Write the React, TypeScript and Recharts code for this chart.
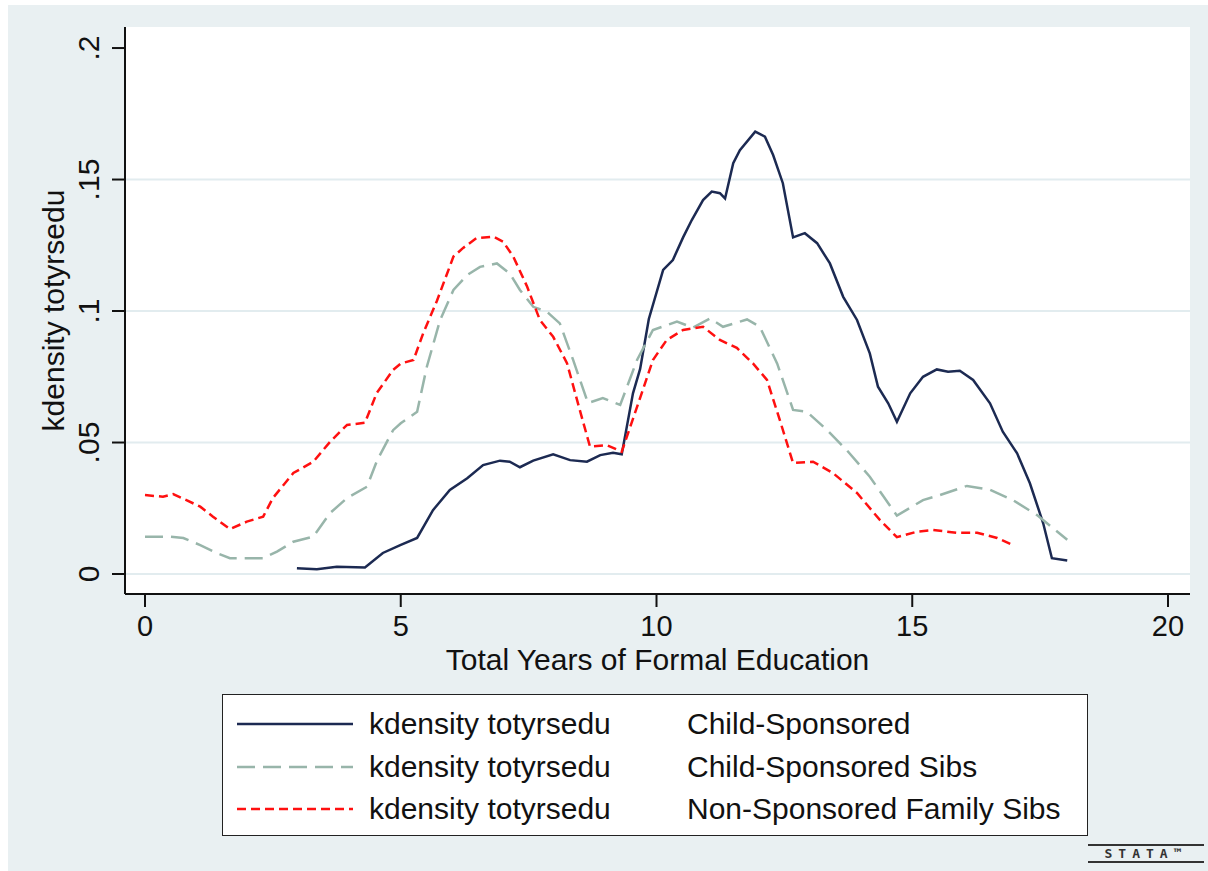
import { CartesianGrid, Label, Line, LineChart, XAxis, YAxis } from "recharts";

// kdensity totyrsedu
const sponsoredYears = [2.97, 3.36, 3.75, 4.3, 4.65, 4.99, 5.32, 5.63, 5.96, 6.3, 6.61, 6.94, 7.13, 7.33, 7.59, 7.98, 8.31, 8.64, 8.9, 9.15, 9.32, 9.54, 9.68, 9.85, 10.13, 10.32, 10.52, 10.69, 10.91, 11.08, 11.24, 11.34, 11.5, 11.63, 11.93, 12.12, 12.28, 12.47, 12.67, 12.9, 13.14, 13.39, 13.65, 13.92, 14.17, 14.33, 14.53, 14.7, 14.96, 15.21, 15.48, 15.7, 15.93, 16.19, 16.52, 16.77, 17.05, 17.3, 17.56, 17.73, 18.03];
const sponsoredDensity = [0.0022, 0.0018, 0.0028, 0.0025, 0.008, 0.011, 0.0137, 0.0243, 0.032, 0.0364, 0.0414, 0.0431, 0.0427, 0.0406, 0.0431, 0.0455, 0.0433, 0.0427, 0.0452, 0.0461, 0.0455, 0.0687, 0.078, 0.097, 0.1156, 0.1194, 0.128, 0.1346, 0.1422, 0.1454, 0.1448, 0.1428, 0.1562, 0.1612, 0.1682, 0.1663, 0.1593, 0.1486, 0.128, 0.1296, 0.1258, 0.1181, 0.1054, 0.0966, 0.0839, 0.0712, 0.0649, 0.0579, 0.0687, 0.075, 0.0778, 0.0769, 0.0773, 0.0738, 0.0649, 0.0541, 0.0459, 0.0345, 0.0193, 0.006, 0.0051];

const sibsYears = [0, 0.49, 0.75, 1.08, 1.4, 1.66, 1.99, 2.31, 2.58, 2.9, 3.29, 3.62, 3.95, 4.34, 4.54, 4.85, 5.0, 5.32, 5.51, 5.77, 6.03, 6.3, 6.55, 6.88, 7.13, 7.33, 7.59, 7.86, 8.11, 8.37, 8.66, 8.95, 9.29, 9.62, 9.93, 10.4, 10.71, 11.05, 11.3, 11.77, 12.02, 12.36, 12.67, 12.94, 13.33, 13.72, 14.17, 14.7, 15.21, 15.54, 16.07, 16.52, 16.97, 17.44, 18.03];
const sibsDensity = [0.0142, 0.0142, 0.0137, 0.011, 0.008, 0.006, 0.006, 0.006, 0.0085, 0.0123, 0.0142, 0.0232, 0.0289, 0.0332, 0.0433, 0.0547, 0.0573, 0.0617, 0.0788, 0.0966, 0.108, 0.1137, 0.1168, 0.1181, 0.1143, 0.108, 0.1016, 0.0997, 0.0953, 0.0814, 0.065, 0.0669, 0.0643, 0.0814, 0.0928, 0.096, 0.0937, 0.0972, 0.094, 0.0968, 0.094, 0.08, 0.0624, 0.0617, 0.0548, 0.0471, 0.037, 0.0222, 0.0281, 0.03, 0.0335, 0.032, 0.0281, 0.0224, 0.013];

const familyYears = [0, 0.35, 0.55, 0.82, 1.08, 1.33, 1.66, 1.99, 2.31, 2.5, 2.9, 3.29, 3.62, 3.95, 4.3, 4.53, 4.85, 5.0, 5.25, 5.44, 5.71, 6.03, 6.22, 6.48, 6.81, 7.0, 7.2, 7.47, 7.72, 7.98, 8.25, 8.5, 8.7, 9.03, 9.32, 9.68, 9.93, 10.2, 10.52, 10.91, 11.24, 11.57, 11.89, 12.16, 12.41, 12.67, 13.06, 13.45, 13.92, 14.37, 14.7, 15.09, 15.41, 15.87, 16.27, 16.66, 16.97];
const familyDensity = [0.03, 0.0294, 0.0304, 0.028, 0.0256, 0.0218, 0.0171, 0.0199, 0.0218, 0.0289, 0.0384, 0.0427, 0.0503, 0.0567, 0.0575, 0.0688, 0.0776, 0.08, 0.0814, 0.0916, 0.104, 0.1207, 0.124, 0.1277, 0.1283, 0.1264, 0.1207, 0.1093, 0.0966, 0.0902, 0.0802, 0.0624, 0.0484, 0.049, 0.0465, 0.067, 0.0814, 0.089, 0.0928, 0.094, 0.089, 0.086, 0.08, 0.0738, 0.0586, 0.0422, 0.0427, 0.0384, 0.0308, 0.0205, 0.014, 0.0161, 0.0167, 0.0157, 0.0157, 0.0137, 0.011];

const xTicks = [0, 5, 10, 15, 20];
const yTicks = [0, 0.05, 0.1, 0.15, 0.2];
const yTickLabels = ["0", ".05", ".1", ".15", ".2"];
const gridValues = [0, 0.05, 0.1, 0.15];

const legendKeys = ["kdensity totyrsedu", "kdensity totyrsedu", "kdensity totyrsedu"];
const legendNames = ["Child-Sponsored", "Child-Sponsored Sibs", "Non-Sponsored Family Sibs"];

const FONT = "'Liberation Sans', Arial, sans-serif";
const BG = "#e9f0f2";

const series = [
  { name: legendNames[0], data: zip(sponsoredYears, sponsoredDensity), color: "#1c2a52", dash: undefined },
  { name: legendNames[1], data: zip(sibsYears, sibsDensity), color: "#98b5aa", dash: "18 8" },
  { name: legendNames[2], data: zip(familyYears, familyDensity), color: "#ff1010", dash: "9 5" },
];

function zip(xs: number[], ys: number[]) {
  return xs.map((x, i) => ({ x, y: ys[i] }));
}

function YTick(props: any) {
  const { x, y, payload } = props;
  const label = yTickLabels[yTicks.indexOf(payload.value)] ?? String(payload.value);
  return (
    <text
      x={x}
      y={y}
      transform={`rotate(-90 ${x} ${y})`}
      textAnchor="middle"
      fontFamily={FONT}
      fontSize={30}
      fill="#111"
    >
      {label}
    </text>
  );
}

function YTitle(props: any) {
  const vb = props.viewBox || { x: 0, y: 27, width: 125, height: 567 };
  const cy = vb.y + vb.height / 2;
  return (
    <text
      x={64}
      y={cy}
      transform={`rotate(-90 64 ${cy})`}
      textAnchor="middle"
      fontFamily={FONT}
      fontSize={30}
      fill="#111"
    >
      kdensity totyrsedu
    </text>
  );
}

function LegendBox() {
  return (
    <div
      style={{
        position: "absolute",
        left: 222,
        top: 694,
        width: 866,
        height: 142,
        background: "#fff",
        border: "1.5px solid #222",
        boxSizing: "border-box",
        fontFamily: FONT,
        fontSize: 30,
        color: "#111",
      }}
    >
      {series.map((s, i) => (
        <div
          key={i}
          style={{ position: "absolute", left: 0, top: 8 + i * 42.5, height: 42.5, width: "100%" }}
        >
          <svg width={120} height={42} style={{ position: "absolute", left: 13, top: 0 }}>
            <line x1={1} x2={117} y1={21} y2={21} stroke={s.color} strokeWidth={2.5} strokeDasharray={s.dash} />
          </svg>
          <span style={{ position: "absolute", left: 146, top: 3, lineHeight: "36px", whiteSpace: "nowrap" }}>
            {legendKeys[i]}
          </span>
          <span style={{ position: "absolute", left: 464, top: 3, lineHeight: "36px", whiteSpace: "nowrap" }}>
            {s.name}
          </span>
        </div>
      ))}
    </div>
  );
}

export default function App() {
  return (
    <div style={{ position: "absolute", left: 0, top: 0, width: 1208, height: 871, overflow: "hidden" }}>
      <div style={{ position: "absolute", left: 8, top: 5, width: 1200, height: 866, background: BG }} />
      <div style={{ position: "absolute", left: 0, top: 0 }}>
        <LineChart width={1208} height={871} margin={{ top: 27, right: 18, left: 0, bottom: 237 }}>
          <CartesianGrid
            vertical={false}
            horizontalValues={gridValues}
            stroke="#e2ecef"
            strokeWidth={2}
            fill="#ffffff"
            fillOpacity={1}
          />
          <XAxis
            dataKey="x"
            type="number"
            domain={[-0.391, 20.43]}
            ticks={xTicks}
            allowDataOverflow
            height={40}
            tickSize={13}
            tickMargin={8}
            axisLine={{ stroke: "#111", strokeWidth: 2 }}
            tickLine={{ stroke: "#111", strokeWidth: 2 }}
            tick={{ fill: "#111", fontSize: 29, fontFamily: FONT }}
          >
            <Label
              value="Total Years of Formal Education"
              position="bottom"
              offset={15}
              style={{ fill: "#111", fontSize: 30, fontFamily: FONT }}
            />
          </XAxis>
          <YAxis
            type="number"
            domain={[-0.0076, 0.208]}
            ticks={yTicks}
            allowDataOverflow
            width={125}
            tickSize={13}
            tickMargin={13}
            axisLine={{ stroke: "#111", strokeWidth: 2 }}
            tickLine={{ stroke: "#111", strokeWidth: 2 }}
            tick={<YTick />}
          >
            <Label content={<YTitle />} />
          </YAxis>
          {series.map((s) => (
            <Line
              key={s.name}
              data={s.data}
              dataKey="y"
              name={s.name}
              type="linear"
              stroke={s.color}
              strokeWidth={2.5}
              strokeDasharray={s.dash}
              dot={false}
              activeDot={false}
              isAnimationActive={false}
            />
          ))}
        </LineChart>
      </div>
      <LegendBox />
      <div
        style={{
          position: "absolute",
          left: 1088,
          top: 844,
          width: 116,
          height: 15,
          borderTop: "2px solid #333",
          borderBottom: "2px solid #333",
          fontFamily: "'DejaVu Sans Mono', monospace",
          fontSize: 13,
          lineHeight: "15px",
          letterSpacing: 6,
          color: "#333",
          textAlign: "center",
          fontWeight: "bold",
        }}
      >
        STATA™
      </div>
    </div>
  );
}
